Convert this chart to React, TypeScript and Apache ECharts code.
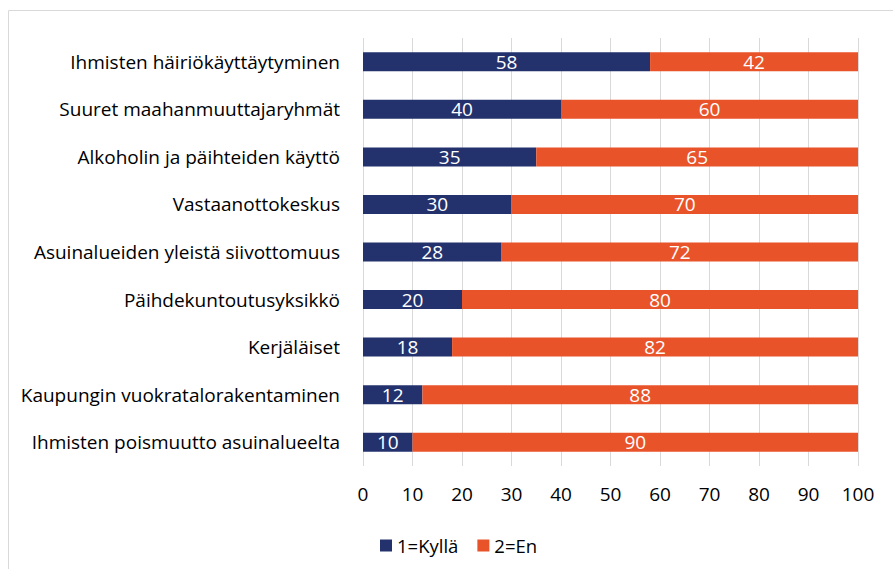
import React, { useEffect, useRef } from "react";
import * as echarts from "echarts";

const categories = [
  "Ihmisten häiriökäyttäytyminen",
  "Suuret maahanmuuttajaryhmät",
  "Alkoholin ja päihteiden käyttö",
  "Vastaanottokeskus",
  "Asuinalueiden yleistä siivottomuus",
  "Päihdekuntoutusyksikkö",
  "Kerjäläiset",
  "Kaupungin vuokratalorakentaminen",
  "Ihmisten poismuutto asuinalueelta",
];
const yesValues = [58, 40, 35, 30, 28, 20, 18, 12, 10];
const noValues = [42, 60, 65, 70, 72, 80, 82, 88, 90];
const seriesNames = ["1=Kyllä", "2=En"];
const colors = ["#23326D", "#E8532A"];

const FONT = "'Open Sans', 'Liberation Sans', sans-serif";

export default function App() {
  const ref = useRef<HTMLDivElement>(null);
  useEffect(() => {
    if (!ref.current) return;
    const chart = echarts.init(ref.current, null, { renderer: "svg" });
    const labelStyle = {
      show: true,
      position: "inside" as const,
      color: "#ffffff",
      fontSize: 19,
      fontFamily: FONT,
    };
    chart.setOption({
      animation: false,
      backgroundColor: "#ffffff",
      textStyle: { fontFamily: FONT },
      graphic: [
        { type: "line", shape: { x1: 8.5, y1: 10.5, x2: 893, y2: 10.5 }, style: { stroke: "#d9d9d9", lineWidth: 1 } },
        { type: "line", shape: { x1: 8.5, y1: 10.5, x2: 8.5, y2: 569 }, style: { stroke: "#d9d9d9", lineWidth: 1 } },
      ],
      legend: {
        data: seriesNames,
        top: 531,
        left: 375,
        icon: "rect",
        itemWidth: 12,
        itemHeight: 12,
        itemGap: 19,
        textStyle: { fontSize: 18.5, color: "#000", fontFamily: FONT },
      },
      grid: { left: 363, right: 35, top: 38, bottom: 103, containLabel: false },
      xAxis: {
        type: "value",
        min: 0,
        max: 100,
        interval: 10,
        axisLine: { show: false },
        axisTick: { show: false },
        splitLine: { show: true, lineStyle: { color: "#d9d9d9", width: 1 } },
        axisLabel: { fontSize: 19, color: "#000", margin: 18, fontFamily: FONT },
      },
      yAxis: {
        type: "category",
        data: categories,
        inverse: true,
        axisLine: { show: false },
        axisTick: { show: false },
        axisLabel: { fontSize: 19, color: "#000", margin: 23, fontFamily: FONT },
      },
      series: [
        {
          name: seriesNames[0],
          type: "bar",
          stack: "total",
          data: yesValues,
          barWidth: 19,
          itemStyle: { color: colors[0] },
          label: labelStyle,
        },
        {
          name: seriesNames[1],
          type: "bar",
          stack: "total",
          data: noValues,
          barWidth: 19,
          itemStyle: { color: colors[1] },
          label: labelStyle,
        },
      ],
    });
    return () => chart.dispose();
  }, []);
  return (
    <div
      ref={ref}
      style={{ position: "fixed", left: 0, top: 0, width: 893, height: 569 }}
    />
  );
}
